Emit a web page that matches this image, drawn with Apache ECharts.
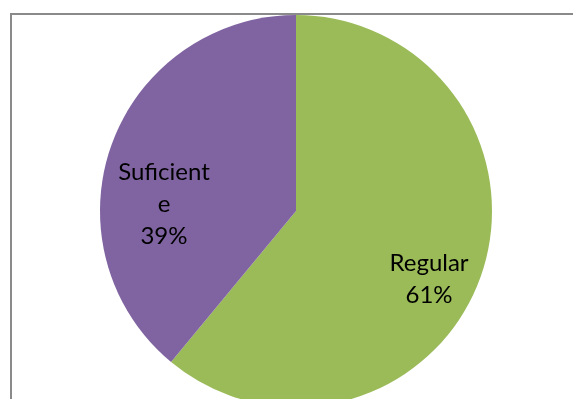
<!DOCTYPE html>
<html>
<head>
<meta charset="utf-8">
<script src="https://cdn.jsdelivr.net/npm/echarts@6/dist/echarts.min.js"></script>
<style>html,body{margin:0;padding:0;background:#fff;}#c{width:573px;height:399px;}</style>
</head>
<body>
<div id="c"></div>
<script>
var categories = ["Regular", "Suficiente"];
var displayNames = ["Regular", "Suficient\ne"];
var values = [61, 39];
var colors = ["#9BBB59", "#8064A2"];
var labelShift = [[38, 34], [-37, 27]];

var chart = echarts.init(document.getElementById('c'), null, {renderer: 'canvas'});
chart.setOption({
  animation: false,
  backgroundColor: '#ffffff',
  graphic: [{
    type: 'rect', silent: true, z: 10,
    shape: {x: 11, y: 14, width: 620, height: 500},
    style: {fill: 'none', stroke: '#8a8a8a', lineWidth: 2}
  }],
  series: [{
    type: 'pie',
    center: [296, 211],
    radius: 196,
    startAngle: 90,
    clockwise: true,
    silent: true,
    data: categories.map(function (c, i) {
      return {name: c, value: values[i], itemStyle: {color: colors[i]}};
    }),
    label: {
      position: 'inside',
      color: '#000',
      fontFamily: 'Lato',
      fontSize: 24,
      lineHeight: 32,
      align: 'center',
      formatter: function (p) { return displayNames[p.dataIndex] + '\n' + p.percent.toFixed(0) + '%'; }
    },
    labelLayout: function (p) {
      return {dx: labelShift[p.dataIndex][0], dy: labelShift[p.dataIndex][1]};
    },
    labelLine: {show: false}
  }]
});
</script>
</body>
</html>
